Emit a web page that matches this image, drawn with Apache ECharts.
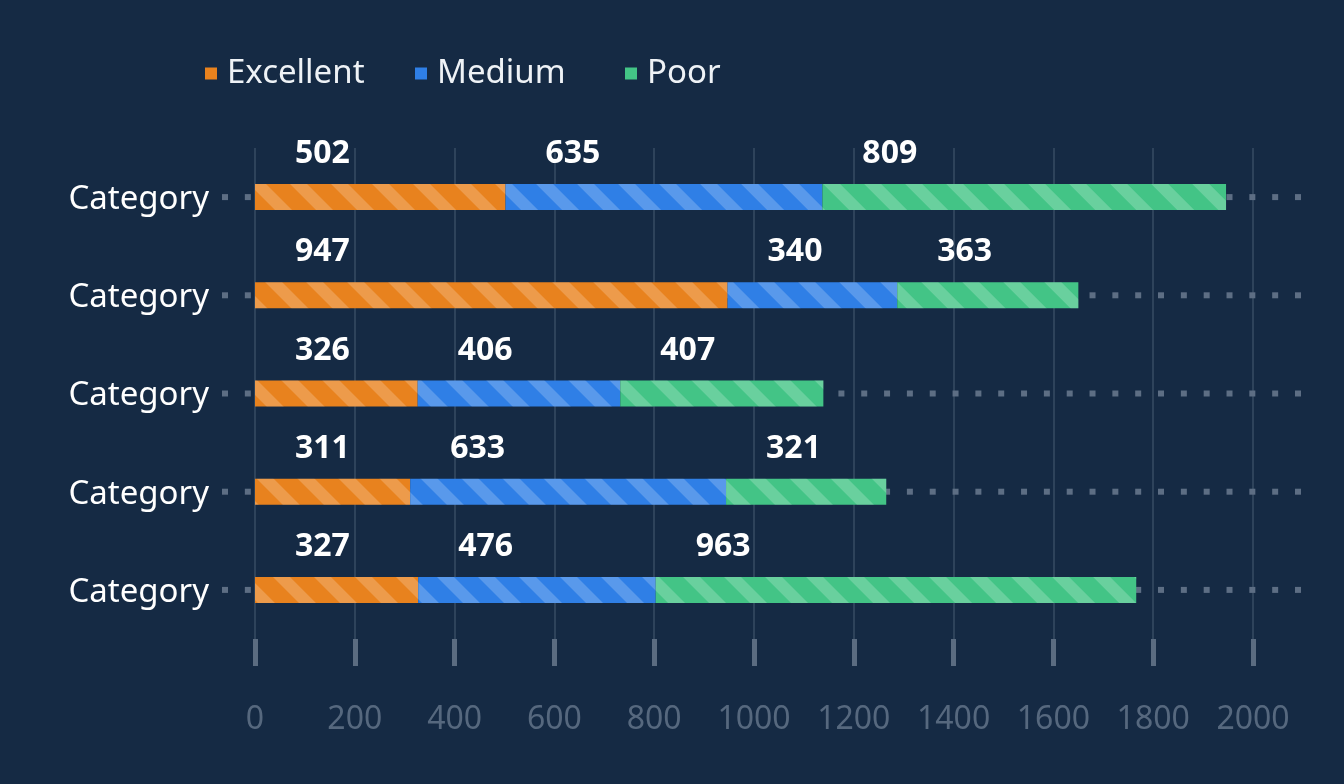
<!DOCTYPE html>
<html>
<head>
<meta charset="utf-8">
<title>Stacked bar</title>
<script src="https://cdn.jsdelivr.net/npm/echarts@6/dist/echarts.min.js"></script>
<style>
  html, body { margin: 0; padding: 0; background: #152a44; }
  #chart { width: 1344px; height: 784px; }
</style>
</head>
<body>
<div id="chart"></div>
<script>
// chart data
const categories = ['Category', 'Category', 'Category', 'Category', 'Category']
const seriesNames = ['Excellent', 'Medium', 'Poor']
const excellent = [502, 947, 326, 311, 327]
const medium = [635, 340, 406, 633, 476]
const poor = [809, 363, 407, 321, 963]
const xTicks = [0, 200, 400, 600, 800, 1000, 1200, 1400, 1600, 1800, 2000]
const guide = [1, 1, 1, 1, 1] // dotted row guides

const FONT = 'Noto Sans'

// stripe pattern for the bars
const stripes = {
  color: 'rgba(255,255,255,0.2)',
  dashArrayX: [1, 0],
  dashArrayY: [12, 17],
  rotation: Math.PI / 4,
}

function barSeries(name, values, color) {
  return {
    name: name,
    type: 'bar',
    stack: 'total',
    data: values,
    barWidth: 26,
    z: 3,
    itemStyle: { color: color, decal: stripes },
    label: {
      show: true,
      position: [40, -30],
      align: 'left',
      verticalAlign: 'middle',
      color: '#ffffff',
      fontSize: 32,
      fontWeight: 'bold',
      fontFamily: FONT,
    },
  }
}

// one legend per series so the items sit on an even pitch
const legendLeft = [200, 410, 620]
function legendFor(name, i) {
  return {
    left: legendLeft[i],
    top: 52,
    itemWidth: 12,
    itemHeight: 12,
    icon: 'rect',
    itemStyle: { decal: 'none' },
    data: [name],
    textStyle: {
      color: '#eef2f6',
      fontSize: 33,
      fontFamily: FONT,
      padding: [0, 0, 0, 5],
    },
  }
}

const chart = echarts.init(document.getElementById('chart'))
const options = {
  backgroundColor: '#152a44',
  textStyle: { fontFamily: FONT },
  legend: seriesNames.map(legendFor),
  grid: [
    { left: 255, right: 91, top: 148, bottom: 145, outerBoundsMode: 'none' },
    // wider grid that only carries the dotted guides
    { left: 222, right: 43, top: 148, bottom: 145, outerBoundsMode: 'none' },
  ],
  xAxis: [
    {
      type: 'value',
      gridIndex: 0,
      min: xTicks[0],
      max: xTicks[xTicks.length - 1],
      interval: xTicks[1] - xTicks[0],
      axisLine: { show: false },
      axisTick: { show: true, length: 27, lineStyle: { color: '#5b6c81', width: 5 } },
      axisLabel: {
        color: '#56687e',
        fontSize: 32,
        fontFamily: FONT,
        margin: 65,
        formatter: (v) => String(v),
      },
      splitLine: { show: true, lineStyle: { color: '#2e435b', width: 2 } },
    },
    { type: 'value', gridIndex: 1, min: 0, max: 1, show: false },
  ],
  yAxis: [
    {
      type: 'category',
      gridIndex: 0,
      data: categories,
      inverse: true,
      axisLine: { show: false },
      axisTick: { show: false },
      axisLabel: {
        color: '#ffffff',
        fontSize: 33,
        fontFamily: FONT,
        margin: 46,
        formatter: '{c|{value}}',
        rich: {
          c: { color: '#ffffff', fontSize: 33, fontFamily: FONT, padding: [5, 0, 0, 0] },
        },
      },
    },
    { type: 'category', gridIndex: 1, data: categories, inverse: true, show: false },
  ],
  series: [
    {
      type: 'pictorialBar',
      xAxisIndex: 1,
      yAxisIndex: 1,
      data: guide,
      symbol: 'rect',
      symbolSize: [6, 6],
      symbolRepeat: 48,
      itemStyle: { color: '#5d6e84' },
      silent: true,
      z: 1,
    },
    barSeries(seriesNames[0], excellent, '#e8821e'),
    barSeries(seriesNames[1], medium, '#2f7fe6'),
    barSeries(seriesNames[2], poor, '#43c486'),
  ],
}
chart.setOption(options)
</script>
</body>
</html>
